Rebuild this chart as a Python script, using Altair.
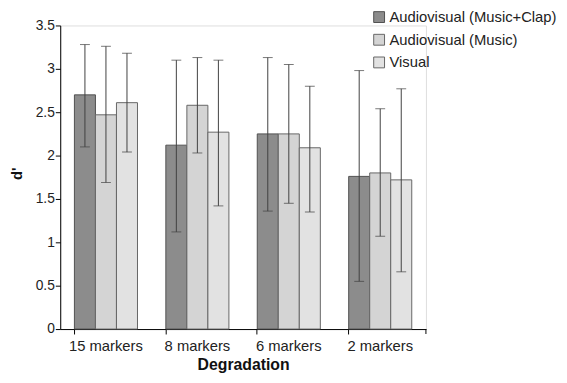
import altair as alt
import pandas as pd

categories = ["15 markers", "8 markers", "6 markers", "2 markers"]
series = ["Audiovisual (Music+Clap)", "Audiovisual (Music)", "Visual"]
means_mc = [2.70, 2.12, 2.25, 1.76]
means_m = [2.47, 2.58, 2.25, 1.80]
means_v = [2.61, 2.27, 2.09, 1.72]
low_mc = [2.10, 1.12, 1.36, 0.55]
high_mc = [3.28, 3.10, 3.13, 2.98]
low_m = [1.69, 2.03, 1.45, 1.07]
high_m = [3.26, 3.13, 3.05, 2.54]
low_v = [2.04, 1.42, 1.35, 0.66]
high_v = [3.18, 3.10, 2.80, 2.77]
fills = ["#8c8c8c", "#d4d4d4", "#e2e2e2"]
strokes = ["#505050", "#666666", "#666666"]

rows = []
for s, m, lo, hi in zip(series, [means_mc, means_m, means_v],
                        [low_mc, low_m, low_v], [high_mc, high_m, high_v]):
    for c, mv, l, h in zip(categories, m, lo, hi):
        rows.append({"category": c, "series": s, "mean": mv, "lo": l, "hi": h})
df = pd.DataFrame(rows)

FONT = "Liberation Sans"
W, H = 371, 308

x = alt.X("category:N", sort=categories,
          scale=alt.Scale(paddingInner=0.31, paddingOuter=0.155),
          axis=alt.Axis(title="Degradation", labelAngle=0, bandPosition=0,
                        tickSize=5, tickColor="black", domainColor="black",
                        labelFontSize=15, labelFont=FONT, labelColor="#222",
                        labelPadding=5, titleFontSize=16, titleFont=FONT,
                        titleFontWeight="bold", titleColor="#111", titlePadding=3))
xo = alt.XOffset("series:N", sort=series, scale=alt.Scale(paddingInner=0, paddingOuter=0))
y = alt.Y("mean:Q", scale=alt.Scale(domain=[0, 3.5], nice=False),
          axis=alt.Axis(title="d'", values=[0, 0.5, 1, 1.5, 2, 2.5, 3, 3.5], format="~g",
                        grid=False, tickSize=5, tickColor="black", domainColor="black",
                        labelFontSize=14, labelFont=FONT, labelColor="#222", labelPadding=1,
                        titleFontSize=15, titleFont=FONT, titleFontWeight="bold",
                        titleColor="#111", titleX=-44, titleY=150, titleAngle=-90,
                        titleAlign="center", titleBaseline="middle"))

bars = alt.Chart(df).mark_bar(strokeWidth=1).encode(
    x=x, xOffset=xo, y=y,
    color=alt.Color("series:N", sort=series,
                    scale=alt.Scale(domain=series, range=fills),
                    legend=alt.Legend(orient="none", legendX=316, legendY=-16, title=None,
                                      symbolType="square", symbolSize=121,
                                      symbolStrokeWidth=1, labelFontSize=15,
                                      labelFont=FONT, labelColor="#222", labelLimit=400,
                                      rowPadding=7, padding=0, labelOffset=3)),
    stroke=alt.Stroke("series:N", sort=series,
                      scale=alt.Scale(domain=series, range=strokes), legend=None),
)

err = alt.Chart(df).mark_rule(color="#404040", strokeWidth=1).encode(
    x=alt.X("category:N", sort=categories), xOffset=xo,
    y="lo:Q", y2="hi:Q")
cap_lo = alt.Chart(df).mark_tick(color="#404040", size=10, thickness=1).encode(
    x=alt.X("category:N", sort=categories), xOffset=xo, y="lo:Q")
cap_hi = alt.Chart(df).mark_tick(color="#404040", size=10, thickness=1).encode(
    x=alt.X("category:N", sort=categories), xOffset=xo, y="hi:Q")

end_tick = alt.Chart(pd.DataFrame({"k": [0]})).mark_rule(color="black").encode(
    x=alt.value(W), y=alt.value(H), y2=alt.value(H + 5))

chart = alt.layer(bars, err, cap_lo, cap_hi, end_tick).properties(
    width=W, height=H,
    padding={"left": 53, "top": 15, "right": 135, "bottom": 52},
    autosize=alt.AutoSizeParams(type="none"),
).configure_view(stroke=None).configure(background="white")

chart.save("out.html", embed_options={"renderer": "svg", "actions": False})
